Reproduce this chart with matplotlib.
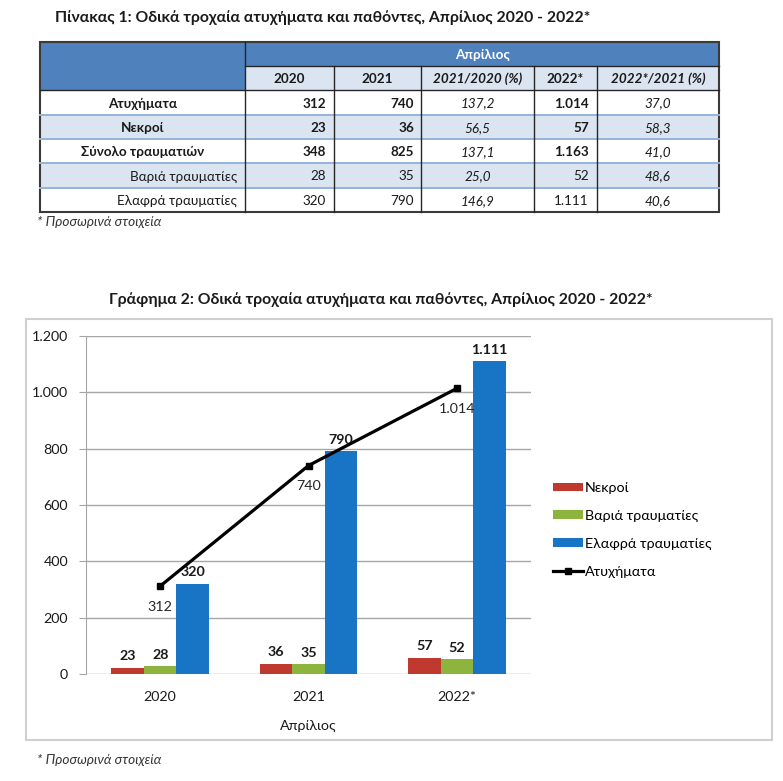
import matplotlib
matplotlib.use("Agg")
import matplotlib.pyplot as plt
from matplotlib.patches import Rectangle
import numpy as np

plt.rcParams["font.family"] = ["Lato", "DejaVu Sans"]

# ---- data ----
years = ["2020", "2021", "2022*"]
nekroi = [23, 36, 57]
varia = [28, 35, 52]
elafra = [320, 790, 1111]
atyxhmata = [312, 740, 1014]
synolo = [348, 825, 1163]

row_labels = ["Ατυχήματα", "Νεκροί", "Σύνολο τραυματιών", "Βαριά τραυματίες", "Ελαφρά τραυματίες"]
pct_21_20 = [137.2, 56.5, 137.1, 25.0, 146.9]
pct_22_21 = [37.0, 58.3, 41.0, 48.6, 40.6]
header_cols = ["2020", "2021", "2021/2020 (%)", "2022*", "2022*/2021 (%)"]

series_names = ["Νεκροί", "Βαριά τραυματίες", "Ελαφρά τραυματίες"]
line_name = "Ατυχήματα"


def fmt_int(v):
    return f"{v:,}".replace(",", ".")


def fmt_pct(v):
    return f"{v:.1f}".replace(".", ",")


W, H = 783, 781
fig = plt.figure(figsize=(W / 100, H / 100), dpi=100)
bg = fig.add_axes([0, 0, 1, 1])
bg.set_xlim(0, W)
bg.set_ylim(H, 0)
bg.axis("off")

# ---- table ----
blue = "#4F81BD"
light = "#DBE5F1"
sep_blue = "#95B3D7"
dark = "#262626"
txt = "#1a1a1a"
col_x = [40, 245, 334, 421, 534, 597, 719]
row_y = [42, 66, 90, 115, 139, 163, 188, 212]
fs = 9.7

bg.text(55, 18, "Πίνακας 1: Οδικά τροχαία ατυχήματα και παθόντες, Απρίλιος 2020 - 2022*",
        fontsize=11.3, fontweight="bold", va="center", ha="left", color=txt)

# header fills
bg.add_patch(Rectangle((col_x[0], row_y[0]), col_x[-1] - col_x[0], row_y[1] - row_y[0], color=blue, lw=0))
bg.add_patch(Rectangle((col_x[0], row_y[1]), col_x[1] - col_x[0], row_y[2] - row_y[1], color=blue, lw=0))
bg.add_patch(Rectangle((col_x[1], row_y[1]), col_x[-1] - col_x[1], row_y[2] - row_y[1], color=light, lw=0))
bg.text((col_x[1] + col_x[-1]) / 2, (row_y[0] + row_y[1]) / 2 + 1, "Απρίλιος", color="white",
        fontsize=fs, fontweight="bold", ha="center", va="center")
for j, h in enumerate(header_cols):
    style = "italic" if "%" in h else "normal"
    bg.text((col_x[j + 1] + col_x[j + 2]) / 2, (row_y[1] + row_y[2]) / 2 + 1, h,
            fontsize=fs, fontweight="bold", fontstyle=style, ha="center", va="center", color=txt)

table_rows = [atyxhmata, nekroi, synolo, varia, elafra]
for i, lab in enumerate(row_labels):
    y0, y1 = row_y[i + 2], row_y[i + 3]
    yc = (y0 + y1) / 2 + 1
    if i in (1, 3):
        bg.add_patch(Rectangle((col_x[0], y0), col_x[-1] - col_x[0], y1 - y0, color=light, lw=0))
    bold = "bold" if i < 3 else "normal"
    if i < 3:
        bg.text((col_x[0] + col_x[1]) / 2, yc, lab, fontsize=fs, fontweight=bold, ha="center", va="center", color=txt)
    else:
        bg.text(col_x[1] - 8, yc, lab, fontsize=fs, ha="right", va="center", color=txt)
    vals = table_rows[i]
    bg.text(col_x[2] - 8, yc, fmt_int(vals[0]), fontsize=fs, fontweight=bold, ha="right", va="center", color=txt)
    bg.text(col_x[3] - 7, yc, fmt_int(vals[1]), fontsize=fs, fontweight=bold, ha="right", va="center", color=txt)
    bg.text((col_x[3] + col_x[4]) / 2, yc, fmt_pct(pct_21_20[i]), fontsize=fs, fontstyle="italic", ha="center", va="center", color=txt)
    bg.text(col_x[5] - 8, yc, fmt_int(vals[2]), fontsize=fs, fontweight=bold, ha="right", va="center", color=txt)
    bg.text((col_x[5] + col_x[6]) / 2, yc, fmt_pct(pct_22_21[i]), fontsize=fs, fontstyle="italic", ha="center", va="center", color=txt)

# separators
for y in row_y[3:-1]:
    bg.plot([col_x[0], col_x[-1]], [y, y], color=sep_blue, lw=1.4)
bg.plot([col_x[1], col_x[-1]], [row_y[1], row_y[1]], color=dark, lw=1)
bg.plot([col_x[0], col_x[-1]], [row_y[2], row_y[2]], color=dark, lw=1)
bg.plot([col_x[1], col_x[1]], [row_y[0], row_y[-1]], color=dark, lw=1)
for x in col_x[2:-1]:
    bg.plot([x, x], [row_y[1], row_y[-1]], color=dark, lw=1)
bg.add_patch(Rectangle((col_x[0], row_y[0]), col_x[-1] - col_x[0], row_y[-1] - row_y[0],
                       fill=False, ec="#3a3a3a", lw=1.5))

bg.text(37, 222, "* Προσωρινά στοιχεία", fontsize=9.8, fontstyle="italic", ha="left", va="center", color="#333333")

# ---- chart ----
bg.text(381, 300, "Γράφημα 2: Οδικά τροχαία ατυχήματα και παθόντες, Απρίλιος 2020 - 2022*",
        fontsize=11.3, fontweight="bold", ha="center", va="center", color=txt)
bg.add_patch(Rectangle((26, 319), 746, 421, fill=False, ec="#D0D0D0", lw=1.5))
bg.text(37, 760, "* Προσωρινά στοιχεία", fontsize=9.8, fontstyle="italic", ha="left", va="center", color="#333333")

left, right, top, bottom = 86, 531, 336, 674
ax = fig.add_axes([left / W, 1 - bottom / H, (right - left) / W, (bottom - top) / H])
ax.patch.set_alpha(0)

x = np.arange(len(years))
bw = 0.22
colors = ["#C0392F", "#8DB43C", "#1874C4"]
for k, (vals, c) in enumerate(zip([nekroi, varia, elafra], colors)):
    bars = ax.bar(x + (k - 1) * bw, vals, bw, color=c, label=series_names[k], zorder=3)
    ax.bar_label(bars, labels=[fmt_int(v) for v in vals], padding=4, fontsize=10.3,
                 fontweight="bold", color=txt)

ax.plot(x, atyxhmata, color="black", lw=2.3, marker="s", ms=5, label=line_name, zorder=4)
for xi, v in zip(x, atyxhmata):
    ax.annotate(fmt_int(v), (xi, v), xytext=(0, -15), textcoords="offset points",
                ha="center", va="center", fontsize=10.3, color="#262626", zorder=5)

ax.set_xlim(-0.5, len(years) - 0.5)
ax.set_ylim(0, 1200)
ax.set_yticks(np.arange(0, 1201, 200))
ax.set_yticklabels([fmt_int(v) for v in range(0, 1201, 200)])
ax.set_xticks(x)
ax.set_xticklabels(years)
ax.grid(axis="y", color="#A6A6A6", lw=1, zorder=0)
ax.tick_params(axis="y", length=5, color="#A6A6A6", labelsize=10.3, pad=8, labelcolor=txt)
ax.tick_params(axis="x", length=0, labelsize=10.3, pad=12, labelcolor=txt)
for s in ["top", "right", "bottom"]:
    ax.spines[s].set_visible(False)
ax.spines["left"].set_color("#A6A6A6")
ax.set_xlabel("Απρίλιος", fontsize=10.3, labelpad=12, color=txt)

handles, labs = ax.get_legend_handles_labels()
order = [1, 2, 3, 0]
ax.legend([handles[i] for i in order], [labs[i] for i in order],
          loc="upper left", bbox_to_anchor=(553 / W, 1 - 482 / H), bbox_transform=fig.transFigure,
          frameon=False, fontsize=10.3, handlelength=2.1, handleheight=0.55, handletextpad=0.15,
          labelspacing=1.1, borderpad=0, borderaxespad=0)

fig.savefig("out.png", dpi=100)
